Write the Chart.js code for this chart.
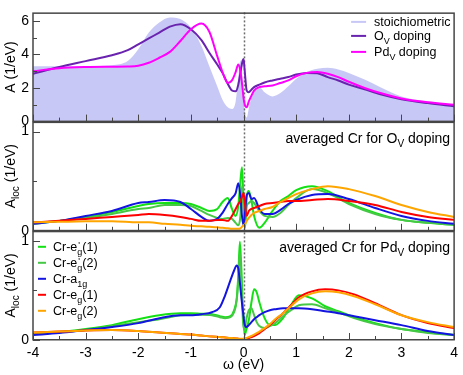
<!DOCTYPE html>
<html><head><meta charset="utf-8">
<script src="https://cdn.jsdelivr.net/npm/chart.js@4/dist/chart.umd.min.js"></script>
<style>html,body{margin:0;padding:0;background:#fff}canvas{display:block}</style>
</head><body>
<canvas id="c" width="463" height="375"></canvas>
<script>
// ---------- tick labels ----------
const xTicks = [-4, -3, -2, -1, 0, 1, 2, 3, 4];
const xMinor = [-3.5, -2.5, -1.5, -0.5, 0.5, 1.5, 2.5, 3.5];
const yTicksA = [0, 2, 4, 6];
const yMinorA = [1, 3, 5];
const yTicksLoc = [0, 1];
const yMinorLoc = [0.5];

// ---------- panel 1: total spectral function ----------
const omega1 = [-4,-3.5,-3,-2.5,-2.2,-2,-1.8,-1.6,-1.4,-1.2,-1,-0.8,-0.65,-0.5,-0.4,-0.3,-0.22,-0.15,-0.1,-0.06,-0.02,0,0.02,0.06,0.1,0.15,0.2,0.3,0.4,0.55,0.7,0.85,1,1.2,1.4,1.6,1.8,2,2.3,2.6,3,3.5,4];
const stoich = [3.3,3.3,3.3,3.35,3.6, 4.3,5.3,5.9,6.2,6.1, 5.6,4.5,3.3,2.1,1.3, 0.85,0.75,1.2,2.6,3.65, 2.6,1.5,0.7,0.25,0.8, 1.5,1.95,2.05,1.75,1.5, 1.7,2.1,2.55,2.95,3.15, 3.2,3.1,2.9,2.5,2.05, 1.5,1.2,1.0];
const ovDoping = [2.85,3.25,3.6,3.95,4.25, 4.6,4.95,5.3,5.65,5.8, 5.5,4.85,4.1,3.4,2.9, 2.25,1.85,1.8,2.2,2.9, 3.6,3.72,3.1,1.85,1.75, 1.9,2.05,2.2,2.33,2.45, 2.55,2.65,2.8,2.9,2.88, 2.65,2.45,2.2,1.92,1.62, 1.33,1.1,0.92];
const pdDoping = [3.0,3.18,3.25,3.27,3.28, 3.32,3.5,3.8,4.15,4.8, 5.5,5.84,5.35,3.9,2.95, 2.3,2.45,2.95,3.4,3.0, 2.0,1.4,1.05,0.85,1.2, 1.55,1.85,2.05,2.1,2.15, 2.3,2.45,2.7,2.9,2.95, 2.85,2.65,2.37,2.0,1.7, 1.38,1.15,1.01];

// ---------- panel 2: averaged Cr, O_V doping ----------
const omega2 = [-4,-3.5,-3,-2.5,-2,-1.8,-1.5,-1.2,-1,-0.8,-0.65,-0.5,-0.4,-0.3,-0.22,-0.15,-0.1,-0.06,-0.03,0,0.03,0.06,0.1,0.15,0.2,0.3,0.4,0.55,0.7,0.85,1,1.3,1.6,2,2.5,3,3.5,4];
const ovEgp1 = [0.07,0.1,0.14,0.19,0.25, 0.27,0.28,0.28,0.27,0.23, 0.2,0.22,0.29,0.33,0.22, 0.15,0.25,0.5,0.64,0.3, 0.03,0.33,0.4,0.3,0.15, 0.03,0.08,0.2,0.3,0.35, 0.41,0.45,0.4,0.28,0.18, 0.11,0.08,0.06];
const ovEgp2 = [0.08,0.1,0.13,0.17,0.22, 0.23,0.26,0.26,0.25,0.2, 0.16,0.13,0.12,0.13,0.12, 0.08,0.055,0.15,0.45,0.2, 0.1,0.25,0.28,0.3,0.28, 0.2,0.15,0.14,0.18,0.26, 0.33,0.42,0.38,0.27,0.17, 0.11,0.08,0.06];
const ovA1g = [0.07,0.1,0.15,0.2,0.28, 0.29,0.31,0.29,0.22,0.14, 0.1,0.12,0.18,0.27,0.33, 0.38,0.48,0.35,0.15,0.055, 0.2,0.36,0.38,0.32,0.33, 0.22,0.17,0.17,0.21,0.27, 0.31,0.36,0.37,0.32,0.23, 0.15,0.1,0.07];
const ovEg1 = [0.085,0.1,0.12,0.14,0.16, 0.17,0.16,0.14,0.12,0.1, 0.1,0.11,0.11,0.1,0.15, 0.22,0.27,0.3,0.34,0.38, 0.25,0.15,0.2,0.22,0.23, 0.25,0.27,0.28,0.29,0.3, 0.3,0.31,0.32,0.3,0.26, 0.19,0.14,0.11];
const ovEg2 = [0.085,0.09,0.095,0.097,0.085, 0.085,0.07,0.06,0.05,0.045, 0.04,0.035,0.03,0.025,0.02, 0.02,0.02,0.025,0.04,0.055, 0.07,0.1,0.13,0.16,0.18, 0.2,0.22,0.24,0.29,0.33, 0.37,0.42,0.45,0.42,0.35, 0.26,0.19,0.14];

// ---------- panel 3: averaged Cr, Pd_V doping ----------
const omega3 = [-4,-3.5,-3,-2.5,-2,-1.6,-1.2,-1,-0.8,-0.6,-0.45,-0.35,-0.25,-0.18,-0.13,-0.1,-0.07,-0.04,-0.01,0.02,0.05,0.1,0.15,0.2,0.25,0.3,0.4,0.5,0.6,0.75,0.9,1.05,1.3,1.55,1.8,2.1,2.5,3,3.5,4];
const pdEgp1 = [0.056,0.08,0.11,0.15,0.21, 0.25,0.27,0.27,0.265,0.26, 0.24,0.23,0.24,0.3,0.42, 0.65,0.99,0.7,0.28,0.05, 0.1,0.2,0.38,0.51,0.48, 0.38,0.22,0.15,0.15,0.22, 0.35,0.45,0.42,0.34,0.29, 0.23,0.17,0.11,0.08,0.05];
const pdEgp2 = [0.056,0.075,0.1,0.14,0.18, 0.21,0.25,0.255,0.255,0.25, 0.23,0.22,0.23,0.28,0.4, 0.6,0.88,0.55,0.18,0.1, 0.2,0.3,0.32,0.25,0.18, 0.14,0.12,0.14,0.17,0.24, 0.3,0.35,0.36,0.32,0.28, 0.22,0.16,0.11,0.07,0.05];
const pdA1g = [0.05,0.07,0.1,0.13,0.17, 0.22,0.25,0.25,0.26,0.28, 0.33,0.45,0.6,0.7,0.75, 0.72,0.58,0.42,0.28,0.16, 0.13,0.15,0.18,0.21,0.23, 0.25,0.28,0.3,0.31,0.32, 0.32,0.32,0.31,0.29,0.27, 0.24,0.2,0.15,0.09,0.05];
const pdEg1 = [0.076,0.085,0.095,0.1,0.09, 0.075,0.06,0.055,0.045,0.035, 0.03,0.025,0.02,0.018,0.015, 0.013,0.01,0.008,0.005,0.008, 0.012,0.02,0.03,0.04,0.055, 0.07,0.11,0.15,0.2,0.27, 0.35,0.43,0.49,0.51,0.5, 0.46,0.37,0.25,0.17,0.12];
const pdEg2 = [0.076,0.085,0.095,0.1,0.09, 0.075,0.06,0.055,0.045,0.035, 0.03,0.025,0.02,0.018,0.015, 0.013,0.012,0.012,0.012,0.015, 0.02,0.03,0.04,0.055,0.07, 0.085,0.12,0.16,0.21,0.27, 0.34,0.41,0.47,0.49,0.48, 0.44,0.36,0.25,0.18,0.13];

// ---------- styles ----------
const C = {
  stoich: 'rgb(200,200,246)', ov: 'rgb(105,35,175)', pd: 'rgb(255,0,255)',
  g1: 'rgb(20,225,20)', g2: 'rgb(70,200,70)', blue: 'rgb(20,20,225)', red: 'rgb(255,0,0)', orange: 'rgb(255,165,0)'
};
const FONT = '"Liberation Sans", Arial, Helvetica, sans-serif';
const fnt = s => s + 'px ' + FONT;
const pts = (xs, ys) => xs.map((x, i) => ({x: x, y: ys[i]}));

function line(label, xs, ys, color, axis, order) {
  return {label, data: pts(xs, ys), yAxisID: axis, borderColor: color, backgroundColor: color,
    borderWidth: 2, pointRadius: 0, fill: false, cubicInterpolationMode: 'monotone', order};
}

const datasets = [
  {label: 'stoichiometric', data: pts(omega1, stoich), yAxisID: 'yA', borderColor: C.stoich, backgroundColor: C.stoich,
   borderWidth: 0, pointRadius: 0, fill: 'origin', cubicInterpolationMode: 'monotone', order: 100},
  line('O_V doping', omega1, ovDoping, C.ov, 'yA', 21),
  line('Pd_V doping', omega1, pdDoping, C.pd, 'yA', 20),
  line("Cr-eg'(1) O", omega2, ovEgp1, C.g1, 'yO', 15),
  line("Cr-eg'(2) O", omega2, ovEgp2, C.g2, 'yO', 14),
  line('Cr-a1g O', omega2, ovA1g, C.blue, 'yO', 13),
  line('Cr-eg(1) O', omega2, ovEg1, C.red, 'yO', 12),
  line('Cr-eg(2) O', omega2, ovEg2, C.orange, 'yO', 11),
  line("Cr-eg'(1) Pd", omega3, pdEgp1, C.g1, 'yP', 9),
  line("Cr-eg'(2) Pd", omega3, pdEgp2, C.g2, 'yP', 8),
  line('Cr-a1g Pd', omega3, pdA1g, C.blue, 'yP', 7),
  line('Cr-eg(1) Pd', omega3, pdEg1, C.red, 'yP', 6),
  line('Cr-eg(2) Pd', omega3, pdEg2, C.orange, 'yP', 5)
];

function drawRich(ctx, parts, x, y, size, align) {
  const items = parts.map(p => {
    const k = p[1] || 'n';
    const fs = k === 'n' ? size : size * 0.72;
    ctx.font = fnt(fs);
    return {t: p[0], k, fs, w: ctx.measureText(p[0]).width};
  });
  let total = 0, pw = 0;
  items.forEach(it => { if (it.k === 'over') total += Math.max(0, it.w - pw); else { total += it.w; pw = it.w; } });
  let cx = align === 'right' ? x - total : align === 'center' ? x - total / 2 : x;
  let px = cx; pw = 0;
  ctx.textAlign = 'left'; ctx.textBaseline = 'alphabetic';
  items.forEach(it => {
    ctx.font = fnt(it.fs);
    let dy = 0, dx = cx;
    if (it.k === 'sub') dy = size * 0.3;
    if (it.k === 'over') { dy = -size * 0.25; dx = px + 1; }
    ctx.fillText(it.t, dx, y + dy);
    if (it.k === 'over') cx = px + Math.max(pw, it.w);
    else { px = cx; pw = it.w; cx += it.w; }
  });
}

const panelPlugin = {
  id: 'panels',
  afterDatasetDraw(chart, args) {
    if (args.index !== 0) return;
    const ctx = chart.ctx, a = chart.chartArea, xs = chart.scales.x;
    const px = Math.round(xs.getPixelForValue(0)) + 0.5;
    ctx.save();
    ctx.strokeStyle = 'rgb(110,110,110)'; ctx.lineWidth = 1.5; ctx.setLineDash([2, 2]);
    ctx.beginPath(); ctx.moveTo(px, a.top); ctx.lineTo(px, a.bottom); ctx.stroke();
    ctx.restore();
  },
  afterDraw(chart) {
    const ctx = chart.ctx, a = chart.chartArea, xs = chart.scales.x;
    const panels = [
      {s: chart.scales.yA, major: yTicksA, minor: yMinorA},
      {s: chart.scales.yO, major: yTicksLoc, minor: yMinorLoc},
      {s: chart.scales.yP, major: yTicksLoc, minor: yMinorLoc}
    ];
    ctx.save();
    ctx.strokeStyle = 'rgb(70,70,70)';
    panels.forEach(p => {
      const top = p.s.top, bot = p.s.bottom;
      ctx.lineWidth = 1;
      ctx.beginPath();
      xTicks.forEach(v => { const x = Math.round(xs.getPixelForValue(v)) + 0.5; ctx.moveTo(x, bot); ctx.lineTo(x, bot - 7); });
      xMinor.forEach(v => { const x = Math.round(xs.getPixelForValue(v)) + 0.5; ctx.moveTo(x, bot); ctx.lineTo(x, bot - 4); });
      p.major.forEach(v => { const y = Math.round(p.s.getPixelForValue(v)) + 0.5; ctx.moveTo(a.left, y); ctx.lineTo(a.left + 7, y); });
      p.minor.forEach(v => { const y = Math.round(p.s.getPixelForValue(v)) + 0.5; ctx.moveTo(a.left, y); ctx.lineTo(a.left + 4, y); });
      ctx.stroke();
      ctx.lineWidth = 1.5;
      ctx.strokeRect(a.left, top + 0.75, a.right - a.left, bot - top - 1);
    });
    ctx.restore();

    ctx.save();
    ctx.fillStyle = '#000';
    const yTitle = (s, parts) => {
      ctx.save();
      ctx.translate(10, (s.top + s.bottom) / 2);
      ctx.rotate(-Math.PI / 2);
      drawRich(ctx, parts, 0, 5, 14, 'center');
      ctx.restore();
    };
    yTitle(chart.scales.yA, [['A (1/eV)']]);
    yTitle(chart.scales.yO, [['A'], ['loc', 'sub'], [' (1/eV)']]);
    yTitle(chart.scales.yP, [['A'], ['loc', 'sub'], [' (1/eV)']]);

    drawRich(ctx, [['averaged Cr for O'], ['V', 'sub'], [' doping']], a.right - 4, chart.scales.yO.top + 21, 14, 'right');
    drawRich(ctx, [['averaged Cr for Pd'], ['V', 'sub'], [' doping']], a.right - 4, chart.scales.yP.top + 21, 14, 'right');

    const leg1 = [
      {c: C.stoich, parts: [['stoichiometric']]},
      {c: C.ov, parts: [['O'], ['V', 'sub'], [' doping']]},
      {c: C.pd, parts: [['Pd'], ['V', 'sub'], [' doping']]}
    ];
    const l1y = [9.5, 23.5, 39.5];
    leg1.forEach((e, i) => {
      const y = chart.scales.yA.top + l1y[i];
      ctx.strokeStyle = e.c; ctx.lineWidth = 2;
      ctx.beginPath(); ctx.moveTo(a.right - 103, y); ctx.lineTo(a.right - 88, y); ctx.stroke();
      drawRich(ctx, e.parts, a.right - 80, y + 4.5, 12.5, 'left');
    });
    const leg3 = [
      {c: C.g1, parts: [['Cr-e'], ['g', 'sub'], ["'", 'over'], ['(1)']]},
      {c: C.g2, parts: [['Cr-e'], ['g', 'sub'], ["'", 'over'], ['(2)']]},
      {c: C.blue, parts: [['Cr-a'], ['1g', 'sub']]},
      {c: C.red, parts: [['Cr-e'], ['g', 'sub'], ['(1)']]},
      {c: C.orange, parts: [['Cr-e'], ['g', 'sub'], ['(2)']]}
    ];
    leg3.forEach((e, i) => {
      const y = chart.scales.yP.top + 16 + 16 * i;
      ctx.strokeStyle = e.c; ctx.lineWidth = 2;
      ctx.beginPath(); ctx.moveTo(a.left + 5, y); ctx.lineTo(a.left + 13, y); ctx.stroke();
      drawRich(ctx, e.parts, a.left + 20, y + 4, 12.5, 'left');
    });
    ctx.restore();
  }
};

const yCommon = (ticksArr, max) => ({
  type: 'linear', position: 'left', stack: 'panels', stackWeight: 1, min: 0, max: max,
  afterBuildTicks: s => { s.ticks = ticksArr.map(v => ({value: v})); },
  afterFit: s => { s.width = 33; },
  grid: {display: false, drawTicks: false}, border: {display: false},
  ticks: {padding: 4, color: '#000', font: {family: FONT, size: 14}, callback: v => String(v)}
});

new Chart(document.getElementById('c'), {
  type: 'line',
  data: {datasets},
  options: {
    responsive: false, animation: false, devicePixelRatio: 1,
    layout: {padding: {top: 2, right: 5, left: 0, bottom: 0}},
    plugins: {legend: {display: false}, tooltip: {enabled: false}},
    scales: {
      x: {
        type: 'linear', position: 'bottom', min: -4, max: 4,
        afterBuildTicks: s => { s.ticks = xTicks.map(v => ({value: v})); },
        afterFit: s => { s.height = 35; },
        grid: {display: false, drawTicks: false}, border: {display: false},
        ticks: {padding: 5, color: '#000', maxRotation: 0, font: {family: FONT, size: 14}, callback: v => String(v)},
        title: {display: true, text: 'ω (eV)', color: '#000', font: {family: FONT, size: 14}, padding: {top: 0, bottom: 1}}
      },
      yP: yCommon(yTicksLoc, 1.1),
      yO: yCommon(yTicksLoc, 1.1),
      yA: yCommon(yTicksA, 6.5)
    }
  },
  plugins: [panelPlugin]
});
</script>
</body></html>
